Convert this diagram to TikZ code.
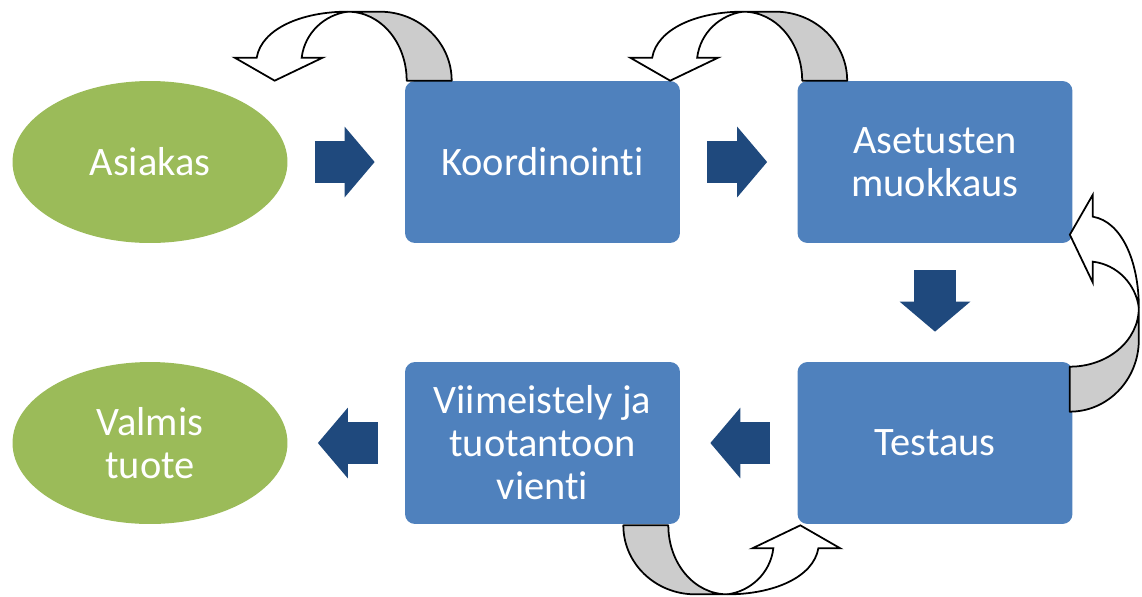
\documentclass[tikz,border=0pt]{standalone}
\usepackage{fontspec}
\setmainfont{Carlito}[Ligatures={NoCommon}]
\usetikzlibrary{shapes.geometric,arrows.meta,calc}
\definecolor{boxblue}{HTML}{4F81BD}
\definecolor{endgreen}{HTML}{9BBB59}
\definecolor{flowblue}{HTML}{1F497D}
\definecolor{bandgray}{HTML}{CCCCCC}
\tikzset{
  phase/.style={rectangle, rounded corners=0.2cm, fill=boxblue, text=white,
    minimum width=5.5cm, minimum height=3.24cm, inner sep=0pt, align=center,
    font=\fontsize{23}{24.5}\selectfont},
  endpoint/.style={ellipse, fill=endgreen, text=white,
    minimum width=5.5cm, minimum height=3.24cm, inner sep=0pt, align=center,
    font=\fontsize{23}{24.5}\selectfont},
  flow/.style={draw=flowblue, line width=0.84cm,
    -{Triangle[length=0.6cm,width=1.38cm]},
    shorten <=0.54cm, shorten >=0.6cm},
  uturn/.pic={
    % back band
    \filldraw[fill=bandgray, line width=1pt, line join=round]
      (0,0) -- (45,0) .. controls (45,-38) and (13,-69) .. (-27,-69)
      -- (-59,-69) .. controls (-26,-69) and (0,-38) .. cycle;
    % front band with head
    \filldraw[fill=white, line width=1pt, line join=miter]
      (-59,-69) .. controls (-105,-69) and (-145,-52) .. (-150,-23)
      -- (-172,-23) -- (-132,0) -- (-84,-23) -- (-105,-23)
      .. controls (-102,-48) and (-82,-66) .. cycle;
  }
}

\begin{document}
\begin{tikzpicture}[x=0.02cm, y=-0.02cm]
  \useasboundingbox (0,0) rectangle (1142,596);

  % nodes
  \node[endpoint] (asiakas) at (150,162) {Asiakas};
  \node[phase] (koord) at (542.5,162) {Koordinointi};
  \node[phase] (asetus) at (935,162) {Asetusten\\muokkaus};
  \node[phase] (testaus) at (935,443) {Testaus};
  \node[phase] (viim) at (542.5,443) {Viimeistely ja\\tuotantoon\\vienti};
  \node[endpoint] (valmis) at (150,443) {Valmis\\tuote};

  % main flow
  \draw[flow] (asiakas) -- (koord);
  \draw[flow] (koord) -- (asetus);
  \draw[flow] (asetus) -- (testaus);
  \draw[flow] (testaus) -- (viim);
  \draw[flow] (viim) -- (valmis);

  % feedback loops
  \pic at ($(koord.north west)+(2,0)$) {uturn};
  \pic at ($(asetus.north west)+(5,0)$) {uturn};
  \pic[rotate=-90] at ($(testaus.north east)+(-3,5)$) {uturn};
  \pic[rotate=180] at ($(viim.south east)+(-12,1)$) {uturn};
\end{tikzpicture}
\end{document}
